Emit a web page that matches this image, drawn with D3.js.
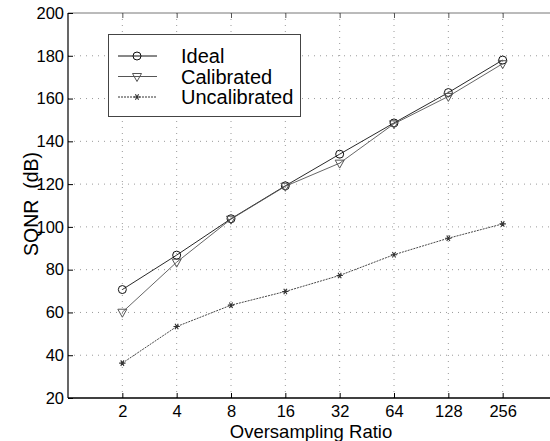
<!DOCTYPE html>
<html>
<head>
<meta charset="utf-8">
<script src="https://cdn.jsdelivr.net/npm/d3@7"></script>
<style>
  body { margin: 0; background: #fff; }
  text { font-family: "Liberation Sans", Arial, sans-serif; }
</style>
</head>
<body>
<div id="chart"></div>
<script>
// Data
const ratios = [2, 4, 8, 16, 32, 64, 128, 256];
const ideal = [70.7, 86.8, 103.8, 119.2, 134, 148.6, 162.8, 178];
const calibrated = [60.1, 83.5, 103.6, 119, 129.8, 148.2, 161, 176.3];
const uncalibrated = [36.3, 53.4, 63.4, 69.8, 77.3, 87, 94.7, 101.4];
const yTicks = [20, 40, 60, 80, 100, 120, 140, 160, 180, 200];
const seriesNames = ["Ideal", "Calibrated", "Uncalibrated"];

const width = 550;
const height = 441;
const margin = { top: 13, right: -7, bottom: 43, left: 68 };

const svg = d3
  .select("#chart")
  .append("svg")
  .attr("width", width)
  .attr("height", height);

// log2 x scale, 1 .. 512
const x = d3
  .scaleLog()
  .base(2)
  .domain([1, 512])
  .range([margin.left, width - margin.right]);

const y = d3
  .scaleLinear()
  .domain([20, 200])
  .range([height - margin.bottom, margin.top]);

// Grid
const grid = svg.append("g").attr("stroke", "#9a9a9a").attr("stroke-dasharray", "1,5");
grid
  .selectAll("line.gy")
  .data(yTicks.slice(1, -1))
  .enter()
  .append("line")
  .attr("x1", margin.left)
  .attr("x2", width)
  .attr("y1", (d) => y(d))
  .attr("y2", (d) => y(d));
grid
  .selectAll("line.gx")
  .data(ratios)
  .enter()
  .append("line")
  .attr("x1", (d) => x(d))
  .attr("x2", (d) => x(d))
  .attr("y1", y(20))
  .attr("y2", y(200));

// Top frame
svg
  .append("line")
  .attr("x1", margin.left)
  .attr("x2", width)
  .attr("y1", y(200))
  .attr("y2", y(200))
  .attr("stroke", "#777");
svg
  .append("g")
  .attr("transform", `translate(0,${y(200)})`)
  .call(d3.axisTop(x).tickValues(ratios).tickSize(-5).tickFormat(""))
  .call((g) => g.select(".domain").remove())
  .selectAll("line")
  .attr("stroke", "#555");

// Bottom axis
const xAxis = svg
  .append("g")
  .attr("transform", `translate(0,${y(20)})`)
  .call(
    d3.axisBottom(x).tickValues(ratios).tickSize(-5).tickPadding(7).tickFormat((d) => d)
  );
xAxis.select(".domain").attr("d", `M${margin.left},0H${width}`).attr("stroke-width", 1.6);
xAxis.selectAll("text").attr("font-size", "16.5px").attr("fill", "#000");

// Left axis
const yAxis = svg
  .append("g")
  .attr("transform", `translate(${margin.left},0)`)
  .call(d3.axisLeft(y).tickValues(yTicks).tickSize(-5).tickPadding(4));
yAxis.select(".domain").attr("d", `M0,${y(200)}V${y(20)}`).attr("stroke-width", 1.2);
yAxis.selectAll("text").attr("font-size", "16.5px").attr("fill", "#000");

// Axis titles
svg
  .append("text")
  .attr("x", 311)
  .attr("y", 437.5)
  .attr("text-anchor", "middle")
  .attr("font-size", "18.5px")
  .text("Oversampling Ratio");
svg
  .append("text")
  .attr("transform", `translate(38,204) rotate(-90)`)
  .attr("text-anchor", "middle")
  .attr("font-size", "19.5px")
  .style("white-space", "pre")
  .text("SQNR  (dB)");

// Series
const styles = [
  { values: ideal, stroke: "#111", dash: null, marker: "circle" },
  { values: calibrated, stroke: "#555", dash: null, marker: "tri" },
  { values: uncalibrated, stroke: "#333", dash: "2,1", marker: "star" },
];

const line = d3
  .line()
  .x((d, i) => x(ratios[i]))
  .y((d) => y(d));

function drawMarker(g, type, cx, cy, stroke) {
  if (type === "circle") {
    g.append("circle")
      .attr("cx", cx)
      .attr("cy", cy)
      .attr("r", 4)
      .attr("fill", "none")
      .attr("stroke", stroke);
  } else if (type === "tri") {
    g.append("path")
      .attr("d", `M${cx - 4.5},${cy - 3}L${cx + 4.5},${cy - 3}L${cx},${cy + 5}Z`)
      .attr("fill", "none")
      .attr("stroke", stroke);
  } else {
    const s = d3.symbol().type(d3.symbolAsterisk).size(28);
    g.append("path")
      .attr("transform", `translate(${cx},${cy}) rotate(90)`)
      .attr("d", s())
      .attr("fill", "none")
      .attr("stroke", stroke)
      .attr("stroke-width", 1.1);
  }
}

styles.forEach((s) => {
  svg
    .append("path")
    .datum(s.values)
    .attr("fill", "none")
    .attr("stroke", s.stroke)
    .attr("stroke-width", 0.9)
    .attr("stroke-dasharray", s.dash)
    .attr("d", line);
  const mg = svg.append("g");
  s.values.forEach((v, i) => drawMarker(mg, s.marker, x(ratios[i]), y(v), s.stroke));
});

// Legend
const legend = svg.append("g");
legend
  .append("rect")
  .attr("x", 108.5)
  .attr("y", 34.5)
  .attr("width", 192)
  .attr("height", 82)
  .attr("fill", "#fff")
  .attr("stroke", "#444");
seriesNames.forEach((name, i) => {
  const ly = 56 + i * 20.5;
  const s = styles[i];
  legend
    .append("line")
    .attr("x1", 118)
    .attr("x2", 157)
    .attr("y1", ly)
    .attr("y2", ly)
    .attr("stroke", s.stroke)
    .attr("stroke-dasharray", s.dash);
  drawMarker(legend, s.marker, 137, ly, s.stroke);
  legend
    .append("text")
    .attr("x", 181)
    .attr("y", ly + 7)
    .attr("font-size", "20px")
    .text(name);
});
</script>
</body>
</html>
